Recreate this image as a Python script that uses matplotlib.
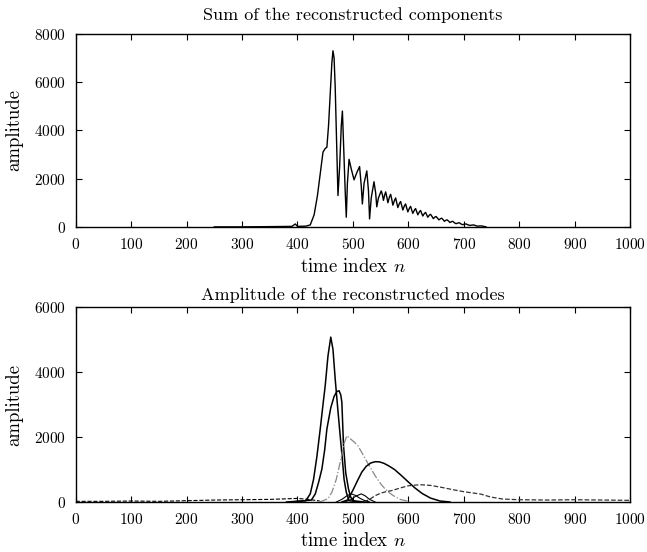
import matplotlib
matplotlib.use("Agg")
import matplotlib.pyplot as plt

plt.rcParams['font.family'] = ['cmr10', 'DejaVu Serif']
plt.rcParams['mathtext.fontset'] = 'cm'
plt.rcParams['axes.formatter.use_mathtext'] = True

# sum of the reconstructed components
sum_n = [250, 300, 350, 390, 396, 400, 415, 423, 430, 436, 441, 446, 450, 453,
         456, 459, 462, 464, 466, 468, 470, 473, 476, 479, 481, 483, 486, 488,
         490, 493, 497, 502, 507, 512, 515, 517, 520, 525, 528, 530, 533, 538,
         541, 543, 546, 551, 553, 555, 557, 559, 561, 563, 566, 568, 570, 572,
         575, 577, 579, 581, 584, 586, 588, 590, 593, 595, 597, 599, 602, 604,
         606, 608, 611, 613, 615, 617, 620, 622, 624, 626, 629, 631, 633, 635,
         638, 640, 643, 645, 648, 650, 653, 655, 658, 660, 663, 665, 668, 670,
         673, 675, 678, 680, 683, 686, 689, 692, 695, 698, 701, 704, 708, 711,
         715, 718, 722, 725, 729, 732, 740]
sum_a = [0, 0, 10, 20, 120, 20, 30, 80, 500, 1300, 2200, 3100, 3250, 3300,
         4200, 5500, 6800, 7300, 7000, 5800, 4000, 1300, 2500, 4200, 4800, 3500, 1500, 400,
         1800, 2800, 2400, 1950, 2250, 2500, 1700, 950, 1800, 2320, 1500, 330, 1200, 1870,
         1400, 830, 1200, 1490, 1350, 1100, 1300, 1450, 1250, 1000, 1250, 1350, 1150, 900,
         1100, 1200, 1000, 800, 980, 1050, 880, 700, 880, 950, 780, 620, 780, 850,
         700, 560, 700, 760, 630, 500, 630, 680, 560, 450, 560, 600, 500, 400,
         490, 520, 420, 340, 410, 430, 350, 290, 340, 360, 290, 230, 280, 290,
         230, 180, 220, 230, 170, 130, 160, 170, 120, 90, 115, 120, 80, 60,
         75, 80, 45, 30, 38, 40, 0]

# amplitude of the reconstructed modes
mode1_n = [380, 415, 423, 429, 435, 441, 446, 450, 455, 460, 464, 468, 473, 477, 481, 484, 488, 493, 510]
mode1_a = [0, 40, 250, 700, 1400, 2246, 3000, 3580, 4500, 5077, 4700, 3785, 2800, 2040, 1300, 700, 300, 40, 0]

mode2_n = [390, 425, 432, 438, 444, 449, 453, 460, 466, 471, 475, 478, 480, 483, 487, 492, 496, 500, 520]
mode2_a = [0, 60, 246, 600, 1015, 1600, 2246, 2900, 3250, 3400, 3425, 3300, 3077, 1733, 900, 400, 150, 40, 0]

mode3_n = [440, 455, 462, 470, 478, 484, 489, 495, 502, 509, 520, 530, 540, 550, 558, 565, 573, 585, 600]
mode3_a = [0, 100, 300, 700, 1300, 1800, 2040, 1950, 1850, 1733, 1400, 1100, 810, 560, 400, 290, 194, 80, 20]

mode4_n = [480, 490, 495, 501, 508, 516, 524, 532, 540, 548, 556, 564, 575, 587, 600, 612, 625, 640, 657, 675]
mode4_a = [0, 60, 200, 400, 650, 920, 1100, 1200, 1240, 1235, 1190, 1117, 1000, 820, 615, 430, 260, 120, 30, 0]

mode5_n = [520, 530, 540, 550, 560, 570, 585, 600, 621, 640, 660, 680, 700, 715, 730, 748, 770, 800, 850, 900, 950, 1000]
mode5_a = [0, 80, 194, 270, 320, 350, 430, 500, 532, 510, 450, 380, 317, 280, 246, 154, 90, 70, 60, 70, 60, 50]

mode6_n = [470, 480, 490, 497, 505, 512, 520, 530]
mode6_a = [0, 80, 200, 250, 200, 120, 50, 0]

mode7_n = [485, 495, 505, 515, 522, 530, 540]
mode7_a = [0, 60, 180, 250, 190, 80, 0]

base_n = [0, 50, 100, 150, 200, 250, 300, 350, 400, 420, 440]
base_a = [20, 20, 30, 20, 40, 60, 70, 80, 110, 80, 30]

x_ticks = list(range(0, 1001, 100))

fig = plt.figure(figsize=(6.47, 5.52), dpi=100)
ax1 = fig.add_axes([0.117, 0.589, 0.857, 0.3496])
ax2 = fig.add_axes([0.117, 0.0906, 0.857, 0.353])

ax1.plot(sum_n, sum_a, color='black', lw=1.0)
ax1.set_xlim(0, 1000)
ax1.set_ylim(0, 8000)
ax1.set_yticks([0, 2000, 4000, 6000, 8000])
ax1.set_title('Sum of the reconstructed components', fontsize=13, pad=10)
ax1.set_ylabel('amplitude', fontsize=13.5, labelpad=7.5)
ax1.set_xlabel('time index $n$', fontsize=13.5, labelpad=4.5)

ax2.plot(base_n, base_a, color='black', lw=0.8, ls='--')
ax2.plot(mode1_n, mode1_a, color='black', lw=1.1)
ax2.plot(mode2_n, mode2_a, color='black', lw=1.1)
ax2.plot(mode3_n, mode3_a, color='#888888', lw=0.9, ls='-.')
ax2.plot(mode4_n, mode4_a, color='black', lw=1.1)
ax2.plot(mode5_n, mode5_a, color='#333333', lw=0.9, ls='--')
ax2.plot(mode6_n, mode6_a, color='black', lw=0.8)
ax2.plot(mode7_n, mode7_a, color='black', lw=0.8)
ax2.set_xlim(0, 1000)
ax2.set_ylim(0, 6000)
ax2.set_yticks([0, 2000, 4000, 6000])
ax2.set_title('Amplitude of the reconstructed modes', fontsize=13, pad=5)
ax2.set_ylabel('amplitude', fontsize=13.5, labelpad=7.5)
ax2.set_xlabel('time index $n$', fontsize=13.5, labelpad=4)

for ax in (ax1, ax2):
    ax.set_xticks(x_ticks)
    ax.tick_params(direction='in', top=True, right=True, labelsize=11, length=4, pad=7)
    for s in ax.spines.values():
        s.set_linewidth(1.0)

fig.savefig('out.png', dpi=100)
